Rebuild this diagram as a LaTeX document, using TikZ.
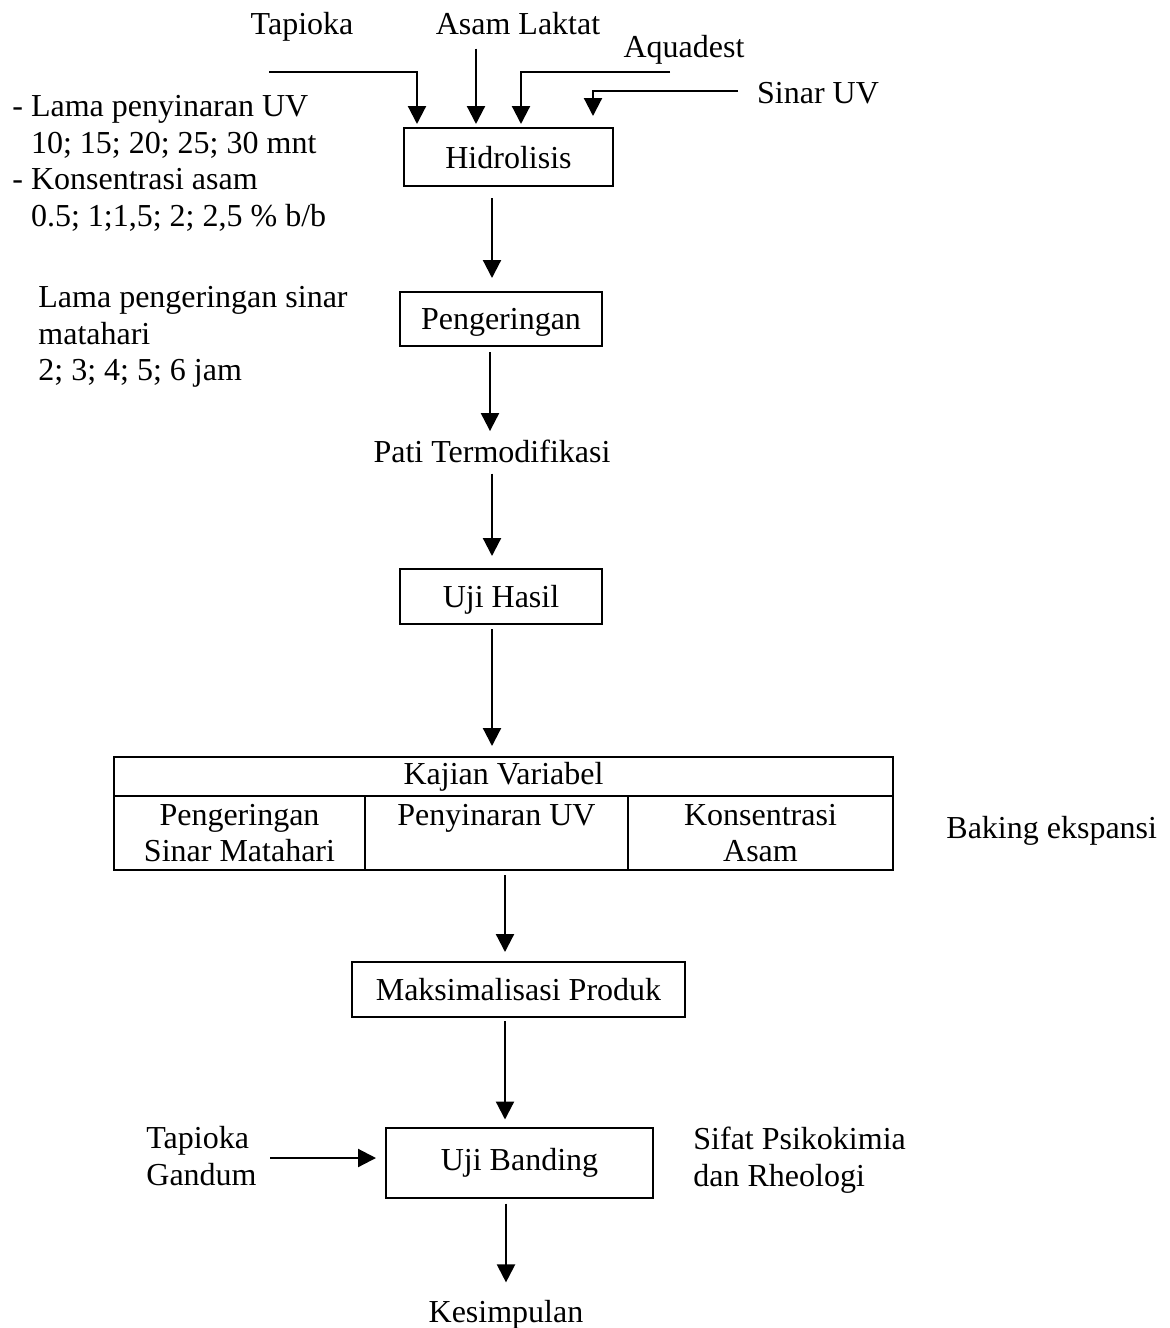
\documentclass[tikz,border=0pt]{standalone}
\usepackage{fontspec}
\setmainfont{Liberation Serif}
\usetikzlibrary{arrows.meta,calc}

\tikzset{
  arr/.style={line width=1.1pt,-{Triangle[length=9pt,width=9pt]}},
  box/.style={draw,line width=1pt,inner sep=0pt},
  nodepth/.style={text depth=0pt},
  cell/.style={draw,line width=1pt,inner sep=0pt,align=center},
  lbl/.style={inner sep=0pt},
}

\begin{document}
\begin{tikzpicture}[x=0.5pt,y=-0.5pt,font=\fontsize{16}{18.35}\selectfont]
\useasboundingbox (0,0) rectangle (1170,1328);

% bahan masuk
\node[lbl,anchor=base] (tapioka) at (302,34) {Tapioka};
\node[lbl,anchor=base] (asam) at (518,34) {Asam Laktat};
\node[lbl,anchor=base] (aquadest) at (684,57) {Aquadest};
\node[lbl,anchor=base] (sinaruv) at (818,103) {Sinar UV};

% alur utama
\node[box,nodepth,minimum width=104.5pt,minimum height=29pt] (hidro) at (508.5,157) {Hidrolisis};
\node[box,nodepth,minimum width=101pt,minimum height=27pt] (peng) at (501,319) {Pengeringan};
\node[lbl,anchor=base] (pati) at (492,462) {Pati Termodifikasi};
\node[box,nodepth,minimum width=101pt,minimum height=27.5pt] (ujihasil) at (501,596.5) {Uji Hasil};

\node[cell,minimum width=389.5pt,minimum height=19.5pt] (kajian) at (503.5,776.5) {Kajian Variabel};
\node[cell,minimum width=125.5pt,minimum height=37pt] (vjemur) at (239.5,833) {Pengeringan\\Sinar Matahari};
\node[cell,minimum width=131.5pt,minimum height=37pt] (vuv) at (496.5,833) {Penyinaran UV\\\mbox{}};
\node[cell,minimum width=132.5pt,minimum height=37pt] (vasam) at (760.5,833) {Konsentrasi\\Asam};

\node[box,nodepth,minimum width=166.5pt,minimum height=27.5pt] (maks) at (518.5,989.5) {Maksimalisasi Produk};
\node[box,minimum width=133.5pt,minimum height=35pt] (banding) at (519.5,1162.5) {Uji Banding};
\node[lbl,anchor=base] (kesimpulan) at (506,1322) {Kesimpulan};

% keterangan
\node[lbl,anchor=north west,align=left] (varuv) at (12,95)
  {- Lama penyinaran UV\\\phantom{-} 10; 15; 20; 25; 30 mnt\\- Konsentrasi asam\\\phantom{-} 0.5; 1;1,5; 2; 2,5 \% b/b};
\node[lbl,anchor=north west,align=left] (varjemur) at (38,286)
  {Lama pengeringan sinar\\matahari\\2; 3; 4; 5; 6 jam};
\node[lbl,anchor=base west] (baking) at (946,838) {Baking ekspansi};
\node[lbl,anchor=north west,align=left] (bahan) at (146,1126) {Tapioka\\Gandum};
\node[lbl,anchor=north west,align=left] (sifat) at (693,1127) {Sifat Psikokimia\\dan Rheologi};

\coordinate (tapin) at (269,72);
\coordinate (aquain) at (670,72);
\coordinate (uvin) at (738,91);
\coordinate (bandingin) at ($(banding.west)+(-9,-4.5)$);

\draw[arr] (tapin) -| ($(hidro.north)+(-91.5,-3)$);
\draw[arr] ($(asam.south)+(-42,14)$) -- ($(hidro.north)+(-32.5,-3)$);
\draw[arr] (aquain) -| ($(hidro.north)+(12.5,-3)$);
\draw[arr] (uvin) -| ($(hidro.north)+(84.5,-11)$);

\draw[arr] ($(hidro.south)+(-16.5,11)$) -- ($(peng.north)+(-9,-13)$);
\draw[arr] ($(peng.south)+(-11,5)$) -- ($(pati.north)+(-2,-8)$);
\draw[arr] ($(pati.south)+(0,11)$) -- ($(ujihasil.north)+(-9,-12)$);
\draw[arr] ($(ujihasil.south)+(-9,4)$) -- ($(kajian.north)+(-11.5,-10)$);
\draw[arr] ($(vuv.south)+(8.5,4)$) -- ($(maks.north)+(-13.5,-9)$);
\draw[arr] ($(maks.south)+(-13.5,3)$) -- ($(banding.north)+(-14.5,-7)$);
\draw[arr] ($(bandingin -| bahan.east)+(13,0)$) -- (bandingin);
\draw[arr] ($(banding.south)+(-13.5,5)$) -- ($(kesimpulan.north)+(0,-17)$);
\end{tikzpicture}
\end{document}
